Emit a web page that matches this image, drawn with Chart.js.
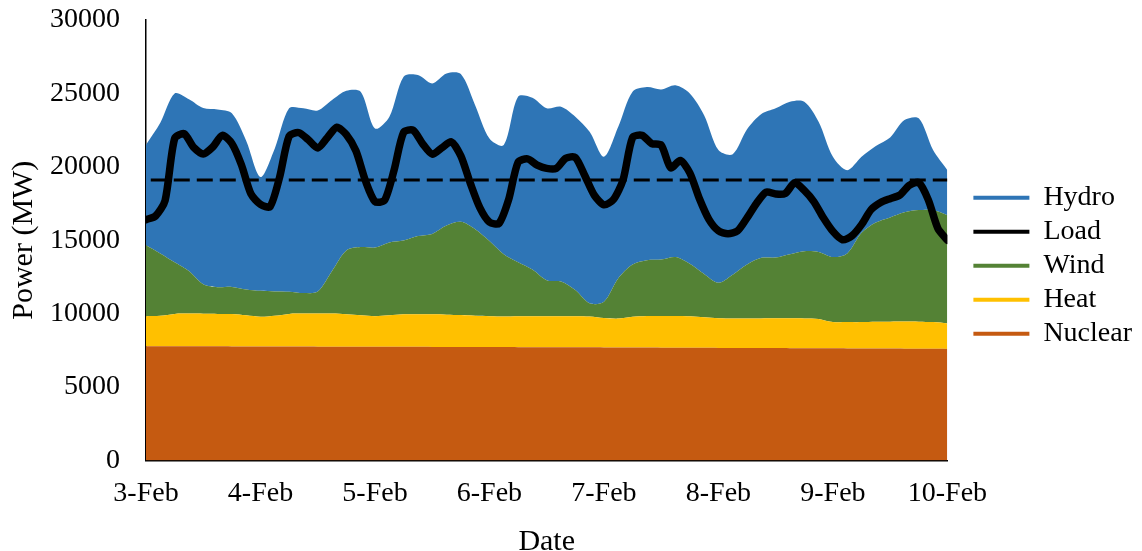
<!DOCTYPE html>
<html>
<head>
<meta charset="utf-8">
<script src="https://cdn.jsdelivr.net/npm/chart.js@4/dist/chart.umd.min.js"></script>
<style>
  body { margin: 0; background: #fff; }
  #wrap { width: 1142px; height: 551px; }
</style>
</head>
<body>
<div id="wrap"><canvas id="powerChart"></canvas></div>
<script>
// tick labels, one per day
const dayLabels = ['3-Feb', '4-Feb', '5-Feb', '6-Feb', '7-Feb', '8-Feb', '9-Feb', '10-Feb'];

// generation, MW, every 3 hours from 3-Feb 00:00
const nuclear = [7780, 7780, 7775, 7775, 7770, 7770, 7765, 7765, 7760, 7760, 7755, 7755, 7750, 7750, 7745, 7745,
  7740, 7740, 7735, 7735, 7730, 7730, 7725, 7725, 7720, 7720, 7715, 7715, 7710, 7710, 7700, 7700,
  7695, 7690, 7690, 7685, 7680, 7680, 7675, 7670, 7665, 7660, 7660, 7655, 7650, 7645, 7640, 7640,
  7635, 7630, 7625, 7620, 7615, 7610, 7605, 7600, 7590];
const heat = [2040, 2070, 2205, 2225, 2220, 2210, 2205, 2115, 2020, 2090, 2225, 2245, 2250, 2250, 2205, 2135,
  2080, 2140, 2215, 2215, 2220, 2200, 2175, 2125, 2100, 2080, 2105, 2105, 2110, 2110, 2120, 2100,
  2005, 1970, 2090, 2155, 2160, 2160, 2145, 2080, 2015, 2000, 2000, 2015, 2030, 2035, 2030, 2000,
  1785, 1790, 1795, 1820, 1835, 1850, 1845, 1820, 1740];
const wind = [4840, 4250, 3520, 2900, 2010, 1820, 1850, 1770, 1770, 1660, 1510, 1400, 1500, 2900, 4350, 4650,
  4680, 4970, 5030, 5330, 5480, 6070, 6350, 5900, 5130, 4250, 3680, 3180, 2450, 2360, 1780, 900,
  1100, 2740, 3570, 3800, 3840, 4010, 3580, 2950, 2420, 2990, 3690, 4130, 4140, 4370, 4580, 4560,
  4430, 4680, 6080, 6760, 7100, 7440, 7600, 7630, 7370];
const hydro = [6840, 8900, 11500, 11700, 12000, 12100, 11820, 10120, 7750, 9740, 12490, 12580, 12340, 11650, 10880, 10580,
  8110, 8550, 11150, 10970, 10250, 10360, 10070, 8450, 6980, 7430, 11270, 11700, 11710, 11910, 11810, 11680,
  9880, 10320, 11760, 11790, 11590, 11700, 11600, 10820, 9040, 8210, 9200, 9790, 10160, 10380, 10180, 8870,
  6830, 5670, 5180, 5210, 5450, 6280, 6250, 4090, 3070];

// load, MW, every 2 hours
const load = [16400, 16650, 17700, 21920, 22250, 21320, 20880, 21350, 22140, 21590, 20140, 18150, 17440, 17280, 19280,
  22080, 22330, 21850, 21280, 21980, 22690, 22190, 21090, 19050, 17630, 17710, 19770, 22350, 22490, 21560,
  20860, 21290, 21700, 20740, 18870, 17200, 16230, 16140, 17740, 20310, 20540, 20110, 19890, 19890, 20580,
  20640, 19390, 18050, 17410, 17770, 19100, 22000, 22140, 21580, 21480, 19930, 20430, 19590, 17840, 16420,
  15640, 15440, 15630, 16520, 17520, 18280, 18150, 18180, 18910, 18390, 17630, 16530, 15600, 15030, 15300,
  16060, 17080, 17560, 17830, 18070, 18740, 18930, 17750, 15810, 15000];
const loadAvg = 19100;

const genStep = 3;
const loadStep = 2;
const hours = 168;

const legendOrder = ['Hydro', 'Load', 'Wind', 'Heat', 'Nuclear'];
const colors = { Nuclear: '#C55A11', Heat: '#FFC000', Wind: '#548235', Hydro: '#2E75B6', Load: '#000000' };

const serif = "'Liberation Serif', 'Times New Roman', serif";

function pts(arr, step) {
  return arr.map((v, i) => ({ x: i * step, y: v }));
}

function area(label, arr, fill) {
  return {
    label: label,
    data: pts(arr, genStep),
    stack: 'gen',
    order: 2,
    backgroundColor: colors[label],
    borderColor: colors[label],
    borderWidth: 0,
    pointRadius: 0,
    tension: 0.3,
    fill: fill
  };
}

const ctx = document.getElementById('powerChart');

new Chart(ctx, {
  type: 'line',
  data: {
    datasets: [
      area('Nuclear', nuclear, 'origin'),
      area('Heat', heat, '-1'),
      area('Wind', wind, '-1'),
      area('Hydro', hydro, '-1'),
      {
        label: 'Load',
        data: pts(load, loadStep),
        stack: 'load',
        order: 0,
        borderColor: '#000',
        borderWidth: 7.5,
        pointRadius: 0,
        tension: 0.25,
        borderJoinStyle: 'round',
        borderCapStyle: 'round',
        fill: false
      },
      {
        label: 'Average',
        data: [{ x: 1, y: loadAvg }, { x: hours, y: loadAvg }],
        stack: 'avg',
        order: 1,
        borderColor: '#000',
        borderWidth: 3,
        borderDash: [16, 7],
        pointRadius: 0,
        fill: false
      }
    ]
  },
  options: {
    responsive: true,
    maintainAspectRatio: false,
    animation: false,
    layout: { padding: { top: 20, right: 0, bottom: -9, left: 6 } },
    plugins: {
      tooltip: { enabled: false },
      legend: {
        position: 'right',
        fullSize: false,
        title: { display: true, text: '', font: { size: 1 }, padding: { top: 50, bottom: 0 } },
        labels: {
          color: '#000',
          font: { family: serif, size: 28 },
          padding: 6,
          usePointStyle: true,
          pointStyleWidth: 56,
          generateLabels: function (chart) {
            return legendOrder.map(function (name) {
              const i = chart.data.datasets.findIndex(d => d.label === name);
              return {
                text: name,
                datasetIndex: i,
                pointStyle: 'line',
                strokeStyle: colors[name],
                fillStyle: colors[name],
                lineWidth: 4,
                lineCap: 'butt',
                fontColor: '#000',
                hidden: false
              };
            });
          }
        }
      }
    },
    scales: {
      x: {
        type: 'linear',
        min: 0,
        max: hours,
        grid: { display: false, drawTicks: true, tickLength: 14 },
        border: { display: true, color: '#000', width: 1.5 },
        ticks: {
          stepSize: 24,
          color: '#000',
          padding: 2,
          maxRotation: 0,
          font: { family: serif, size: 28 },
          callback: v => dayLabels[v / 24]
        },
        title: { display: true, text: 'Date', color: '#000', font: { family: serif, size: 30 }, padding: { top: 12, bottom: 0 } }
      },
      y: {
        stacked: true,
        min: 0,
        max: 30000,
        grid: { display: false, drawTicks: true, tickLength: 24 },
        border: { display: true, color: '#000', width: 1.5 },
        ticks: {
          stepSize: 5000,
          color: '#000',
          padding: 2,
          font: { family: serif, size: 28 },
          callback: v => String(v)
        },
        title: { display: true, text: 'Power (MW)', color: '#000', font: { family: serif, size: 30 }, padding: { top: 0, bottom: 6 } }
      },
      gap: {
        position: 'right',
        display: true,
        grid: { display: false },
        border: { display: false },
        ticks: { display: false },
        afterFit: function (s) { s.width = 20; }
      }
    }
  }
});
</script>
</body>
</html>
